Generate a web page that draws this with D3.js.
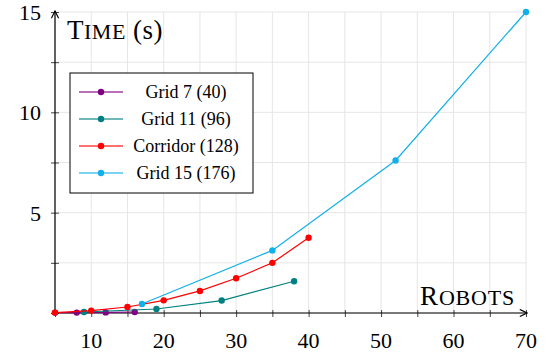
<!DOCTYPE html>
<html>
<head>
<meta charset="utf-8">
<script src="https://cdn.jsdelivr.net/npm/d3@7"></script>
<style>
  body { margin: 0; background: #fff; }
</style>
</head>
<body>
<div id="chart"></div>
<script>
// data
const seriesNames = ['Grid 7 (40)', 'Grid 11 (96)', 'Corridor (128)', 'Grid 15 (176)'];
const seriesColors = ['#800080', '#008080', '#ff0000', '#12b0e8'];

const grid7X = [5, 8, 12, 16];
const grid7Y = [0.02, 0.02, 0.03, 0.05];
const grid11X = [9, 19, 28, 38];
const grid11Y = [0.05, 0.2, 0.62, 1.58];
const corridorX = [5, 10, 15, 20, 25, 30, 35, 40];
const corridorY = [0.02, 0.12, 0.3, 0.63, 1.1, 1.73, 2.5, 3.75];
const grid15X = [17, 35, 52, 70];
const grid15Y = [0.45, 3.12, 7.6, 15];

const xTicks = [5, 10, 15, 20, 25, 30, 35, 40, 45, 50, 55, 60, 65, 70];
const xLabels = [10, 20, 30, 40, 50, 60, 70];
const yTicks = [0, 2.5, 5, 7.5, 10, 12.5, 15];
const yLabels = [5, 10, 15];

const serif = "'Liberation Serif', 'Times New Roman', Times, 'DejaVu Serif', serif";
const width = 551, height = 358;
const margin = { top: 12, right: 25, bottom: 45, left: 55 };

const series = [
  { name: seriesNames[0], color: seriesColors[0], xs: grid7X, ys: grid7Y },
  { name: seriesNames[1], color: seriesColors[1], xs: grid11X, ys: grid11Y },
  { name: seriesNames[2], color: seriesColors[2], xs: corridorX, ys: corridorY },
  { name: seriesNames[3], color: seriesColors[3], xs: grid15X, ys: grid15Y }
].map(s => ({ ...s, points: s.xs.map((x, i) => [x, s.ys[i]]) }));

const svg = d3.select('#chart').append('svg')
  .attr('width', width)
  .attr('height', height)
  .attr('font-family', serif);

const x = d3.scaleLinear().domain([5, 70]).range([margin.left, width - margin.right]);
const y = d3.scaleLinear().domain([0, 15]).range([height - margin.bottom, margin.top]);

// grid
const gridG = svg.append('g').attr('class', 'grid');
gridG.selectAll('.vgrid')
  .data(xTicks)
  .enter().append('line')
  .attr('x1', d => x(d)).attr('x2', d => x(d))
  .attr('y1', y(0)).attr('y2', y(15))
  .style('stroke', '#e6e6e6');
gridG.selectAll('.hgrid')
  .data(yTicks)
  .enter().append('line')
  .attr('x1', x(5)).attr('x2', x(70))
  .attr('y1', d => y(d)).attr('y2', d => y(d))
  .style('stroke', '#e6e6e6');

// axes
const xAxis = d3.axisBottom(x).tickValues(xTicks).tickSize(4).tickFormat('');
const yAxis = d3.axisLeft(y).tickValues(yTicks).tickSize(4).tickFormat('');

const xAxisG = svg.append('g')
  .attr('transform', `translate(0,${y(0)})`)
  .call(xAxis);
const yAxisG = svg.append('g')
  .attr('transform', `translate(${x(5)},0)`)
  .call(yAxis);

svg.selectAll('.domain').remove();
xAxisG.selectAll('.tick line').attr('y1', -3).attr('y2', 4).style('stroke', '#444');
yAxisG.selectAll('.tick line').attr('x1', 4).attr('x2', -4).style('stroke', '#444');

xAxisG.selectAll('.lbl')
  .data(xLabels)
  .enter().append('text')
  .attr('x', d => x(d))
  .attr('y', 35)
  .attr('text-anchor', 'middle')
  .style('font-family', serif)
  .style('font-size', '22px')
  .style('fill', '#000')
  .text(d => d);

yAxisG.selectAll('.lbl')
  .data(yLabels)
  .enter().append('text')
  .attr('x', -14)
  .attr('y', d => y(d) + 8)
  .attr('text-anchor', 'end')
  .style('font-family', serif)
  .style('font-size', '22px')
  .style('fill', '#000')
  .text(d => d);

// axis lines with arrows
svg.append('defs').append('marker')
  .attr('id', 'arrow')
  .attr('viewBox', '0 0 10 10')
  .attr('refX', 9).attr('refY', 5)
  .attr('markerWidth', 9).attr('markerHeight', 9)
  .attr('markerUnits', 'userSpaceOnUse')
  .attr('orient', 'auto')
  .append('path')
  .attr('d', 'M1,1 L9,5 L1,9')
  .style('fill', 'none')
  .style('stroke', '#000')
  .style('stroke-width', 1.3);

svg.append('line')
  .attr('x1', x(5)).attr('x2', x(70) + 1)
  .attr('y1', y(0)).attr('y2', y(0))
  .style('stroke', '#000').style('stroke-width', 1.2)
  .attr('marker-end', 'url(#arrow)');
svg.append('line')
  .attr('x1', x(5)).attr('x2', x(5))
  .attr('y1', y(0)).attr('y2', y(15) - 1)
  .style('stroke', '#000').style('stroke-width', 1.2)
  .attr('marker-end', 'url(#arrow)');

// axis titles (small caps)
const yTitle = svg.append('text')
  .attr('x', x(5) + 12)
  .attr('y', 39)
  .style('font-family', serif)
  .style('letter-spacing', '0.5px')
  .style('fill', '#000');
yTitle.append('tspan').style('font-size', '27px').text('T');
yTitle.append('tspan').style('font-size', '22px').text('IME');
yTitle.append('tspan').style('font-size', '27px').text(' (s)');

const xTitle = svg.append('text')
  .attr('x', x(70) - 11)
  .attr('y', y(0) - 8)
  .attr('text-anchor', 'end')
  .style('font-family', serif)
  .style('letter-spacing', '0.8px')
  .style('fill', '#000');
xTitle.append('tspan').style('font-size', '27px').text('R');
xTitle.append('tspan').style('font-size', '22px').text('OBOTS');

// series
const line = d3.line().x(d => x(d[0])).y(d => y(d[1]));
const seriesG = svg.append('g').classed('series', true);
series.forEach(s => {
  seriesG.append('path')
    .datum(s.points)
    .attr('d', line)
    .style('fill', 'none')
    .style('stroke', s.color)
    .style('stroke-width', 1.2);
  seriesG.selectAll(null)
    .data(s.points)
    .enter().append('circle')
    .attr('cx', d => x(d[0]))
    .attr('cy', d => y(d[1]))
    .attr('r', 3.2)
    .style('fill', s.color);
});

// legend
const legend = svg.append('g').attr('transform', 'translate(70,73)');
legend.append('rect')
  .attr('width', 183).attr('height', 120)
  .style('fill', '#fff')
  .style('stroke', '#000')
  .style('stroke-width', 1);
const item = legend.selectAll('.item')
  .data(series)
  .enter().append('g')
  .attr('transform', (d, i) => `translate(0,${19 + i * 27})`);
item.append('line')
  .attr('x1', 9).attr('x2', 53)
  .style('stroke', d => d.color)
  .style('stroke-opacity', 0.75)
  .style('stroke-width', 1.6);
item.append('circle')
  .attr('cx', 31).attr('r', 3.2)
  .style('fill', d => d.color);
item.append('text')
  .attr('x', 116)
  .attr('y', 6)
  .attr('text-anchor', 'middle')
  .style('font-family', serif)
  .style('font-size', '18px')
  .style('fill', '#000')
  .text(d => d.name);
</script>
</body>
</html>
